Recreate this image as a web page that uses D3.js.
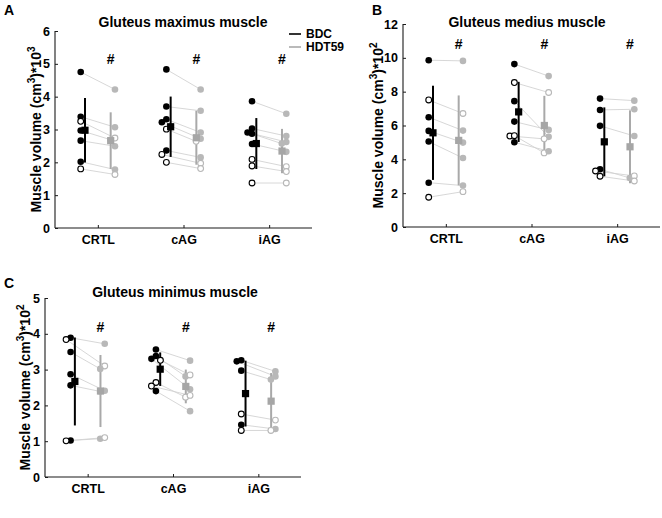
<!DOCTYPE html>
<html><head><meta charset="utf-8">
<script src="https://cdn.jsdelivr.net/npm/d3@7"></script>
<style>
body{margin:0;background:#fff}
svg{display:block}
text{font-family:"Liberation Sans",Arial,Helvetica,sans-serif;font-weight:bold;fill:#000}
</style>
</head><body>
<svg id="c" width="662" height="518"></svg>
<script>
// ---------- data ----------
const categories = ["CRTL", "cAG", "iAG"];
const groups = ["BDC", "HDT59"];
const titles = ["Gluteus maximus muscle", "Gluteus medius muscle", "Gluteus minimus muscle"];
const ticksA = [0, 1, 2, 3, 4, 5, 6];
const ticksB = [0, 2, 4, 6, 8, 10, 12];
const ticksC = [0, 1, 2, 3, 4, 5];
// subjects listed in the same order in BDC / HDT59 arrays (paired lines)
// Gluteus maximus (cm3 x10^3)
const maxBDC = [[4.75, 3.39, 3.25, 2.97, 2.66, 2.02, 1.80],
                [4.83, 3.70, 3.31, 3.22, 3.01, 2.36, 2.24, 2.00],
                [3.86, 3.03, 2.91, 2.87, 2.56, 2.09, 1.89, 1.37]];
const maxHDT = [[4.22, 3.07, 2.74, 2.69, 2.49, 1.78, 1.63],
                [4.22, 3.57, 2.91, 2.72, 2.64, 2.15, 1.97, 1.81],
                [3.48, 2.80, 2.62, 2.57, 2.32, 1.87, 1.72, 1.37]];
const maxOpen = [[0, 0, 1, 0, 0, 0, 1],
                 [0, 0, 0, 0, 1, 0, 1, 1],
                 [0, 0, 0, 0, 0, 1, 1, 1]];
// Gluteus medius (cm3 x10^2)
const medBDC = [[9.86, 7.51, 6.49, 5.68, 5.05, 2.62, 1.76],
                [9.63, 8.54, 7.44, 6.23, 5.38, 5.40, 5.01],
                [7.59, 6.92, 5.98, 3.41, 3.31, 3.00]];
const medHDT = [[9.82, 6.71, 5.70, 4.99, 4.08, 2.45, 2.09],
                [8.92, 7.95, 5.33, 5.74, 5.21, 4.38, 4.48],
                [7.47, 6.96, 5.38, 2.90, 3.02, 2.72]];
const medOpen = [[0, 1, 0, 0, 0, 0, 1],
                 [0, 1, 0, 0, 1, 1, 0],
                 [0, 0, 0, 0, 1, 1]];
// Gluteus minimus (cm3 x10^2)
const minBDC = [[3.89, 3.84, 3.49, 2.87, 2.56, 1.02, 1.01],
                [3.56, 3.38, 3.30, 3.26, 2.64, 2.54, 2.40],
                [3.26, 3.23, 2.97, 1.76, 1.46, 1.30]];
const minHDT = [[3.72, 3.10, 3.02, 2.41, 2.39, 1.07, 1.10],
                [3.25, 2.81, 2.45, 2.85, 2.23, 2.28, 1.84],
                [2.95, 2.81, 2.72, 1.59, 1.34, 1.30]];
const minOpen = [[0, 1, 0, 0, 0, 0, 1],
                 [0, 0, 0, 1, 1, 1, 0],
                 [0, 0, 0, 1, 0, 1]];
const signif = ["#", "#", "#"];

// ---------- layout ----------
const panels = [
  {letter: "A", lx: 4, ly: 15, title: titles[0], tx: 183, ty: 27, x0: 55, x1: 312, yTop: 31, yBot: 228,
   ticks: ticksA, exp: "3", labX: 41, bdc: maxBDC, hdt: maxHDT, open: maxOpen, hashV: 5.15, legend: true},
  {letter: "B", lx: 372, ly: 15, title: titles[1], tx: 527, ty: 27, x0: 403, x1: 660, yTop: 24, yBot: 227,
   ticks: ticksB, exp: "2", labX: 383, bdc: medBDC, hdt: medHDT, open: medOpen, hashV: 10.8},
  {letter: "C", lx: 4, ly: 288, title: titles[2], tx: 175, ty: 297, x0: 45, x1: 301, yTop: 298, yBot: 477,
   ticks: ticksC, exp: "2", labX: 30, bdc: minBDC, hdt: minHDT, open: minOpen, hashV: 4.2}
];

const BLACK = "#000", GRAY = "#a9a9a9", GRAYPT = "#b8b8b8", LINK = "#d2d2d2";
const R = 3.3;
const svg = d3.select("#c");

function dodge(vals, y, baseX) {
  const order = d3.range(vals.length).sort((a, b) => vals[b] - vals[a]);
  const placed = [];
  const xs = new Array(vals.length);
  const slots = [0, -1, 1, -2, 2, -3, 3];
  order.forEach(i => {
    const py = y(vals[i]);
    for (const s of slots) {
      const px = baseX + s * 4.5;
      if (placed.every(p => Math.hypot(p[0] - px, p[1] - py) >= 4.4)) {
        xs[i] = px; placed.push([px, py]); break;
      }
    }
    if (xs[i] === undefined) { xs[i] = baseX; placed.push([baseX, py]); }
  });
  return xs;
}

panels.forEach(P => {
  const g = svg.append("g");
  const x = d3.scaleLinear().domain([0.5, 3.5]).range([P.x0, P.x1]);
  const y = d3.scaleLinear().domain([P.ticks[0], P.ticks[P.ticks.length - 1]]).range([P.yBot, P.yTop]);
  const unit = x(1) - x(0);

  // axes
  const yAx = d3.axisLeft(y).tickValues(P.ticks).tickFormat(d3.format("d")).tickSize(-3).tickPadding(5);
  const ya = g.append("g").attr("transform", `translate(${P.x0},0)`).call(yAx);
  const xAx = d3.axisBottom(x).tickValues([1, 2, 3]).tickFormat((d, i) => categories[i]).tickSize(-3).tickPadding(7);
  const xa = g.append("g").attr("transform", `translate(0,${P.yBot})`).call(xAx);
  [ya, xa].forEach(a => {
    a.select(".domain").attr("stroke", "#1a1a1a").attr("stroke-width", 1.1);
    a.selectAll(".tick line").attr("stroke", "#1a1a1a");
    a.selectAll("text").attr("font-size", 12.5).attr("font-weight", "bold")
      .attr("font-family", '"Liberation Sans",Arial,sans-serif').attr("fill", "#000");
  });
  ya.select(".domain").attr("d", `M0,${P.yBot}V${P.yTop}`);
  xa.select(".domain").attr("d", `M${P.x0},0H${P.x1}`);

  // labels
  g.append("text").attr("x", P.lx).attr("y", P.ly).attr("font-size", 14).text(P.letter);
  g.append("text").attr("x", P.tx).attr("y", P.ty).attr("text-anchor", "middle").attr("font-size", 14).text(P.title);
  const lab = g.append("text").attr("text-anchor", "middle").attr("font-size", 14)
    .attr("transform", `translate(${P.labX},${(P.yTop + P.yBot) / 2}) rotate(-90)`);
  lab.append("tspan").text("Muscle volume (cm");
  lab.append("tspan").attr("dy", -6).attr("font-size", 10).text("3");
  lab.append("tspan").attr("dy", 6).text(")*10");
  lab.append("tspan").attr("dy", -6).attr("font-size", 10).text(P.exp);

  categories.forEach((c, ci) => {
    const cx = x(ci + 1);
    const bv = P.bdc[ci], hv = P.hdt[ci], op = P.open[ci];
    const bx = dodge(bv, y, cx - 0.2 * unit);
    const hx = dodge(hv, y, cx + 0.2 * unit);
    // paired lines
    bv.forEach((v, i) => {
      g.append("line").attr("x1", bx[i]).attr("y1", y(v)).attr("x2", hx[i]).attr("y2", y(hv[i]))
        .attr("stroke", LINK).attr("stroke-width", 0.9);
    });
    // error bars (mean ± SD)
    const sets = [{v: bv, xs: bx, dx: -0.15, col: BLACK, pt: BLACK},
                  {v: hv, xs: hx, dx: 0.15, col: GRAY, pt: GRAYPT}];
    sets.forEach(S => {
      const m = d3.mean(S.v), sd = d3.deviation(S.v);
      const ex = cx + S.dx * unit;
      g.append("line").attr("x1", ex).attr("x2", ex).attr("y1", y(m - sd)).attr("y2", y(m + sd))
        .attr("stroke", S.col).attr("stroke-width", 2);
      S.m = m; S.ex = ex;
    });
    sets.forEach(S => {
      S.v.forEach((v, i) => {
        const o = op[i] === 1;
        g.append("circle").attr("cx", S.xs[i]).attr("cy", y(v)).attr("r", o ? R - 0.4 : R)
          .attr("fill", o ? "#fff" : S.pt).attr("stroke", S.pt).attr("stroke-width", o ? 1.1 : 0);
      });
    });
    sets.forEach(S => {
      g.append("rect").attr("x", S.ex - 3.6).attr("y", y(S.m) - 3.6).attr("width", 7.2).attr("height", 7.2)
        .attr("fill", S.col === BLACK ? BLACK : "#a6a6a6");
    });
    g.append("text").attr("x", cx + 0.15 * unit).attr("y", y(P.hashV) + 5).attr("text-anchor", "middle")
      .attr("font-size", 14).text(signif[ci]);
  });

  if (P.legend) {
    const L = [{t: groups[0], c: BLACK, yy: 34}, {t: groups[1], c: GRAY, yy: 47}];
    L.forEach(l => {
      g.append("line").attr("x1", P.x1 - 23).attr("x2", P.x1 - 11).attr("y1", l.yy).attr("y2", l.yy)
        .attr("stroke", l.c).attr("stroke-width", 1.6);
      g.append("text").attr("x", P.x1 - 6).attr("y", l.yy + 4.3).attr("font-size", 12).text(l.t);
    });
  }
});
</script>
</body></html>
